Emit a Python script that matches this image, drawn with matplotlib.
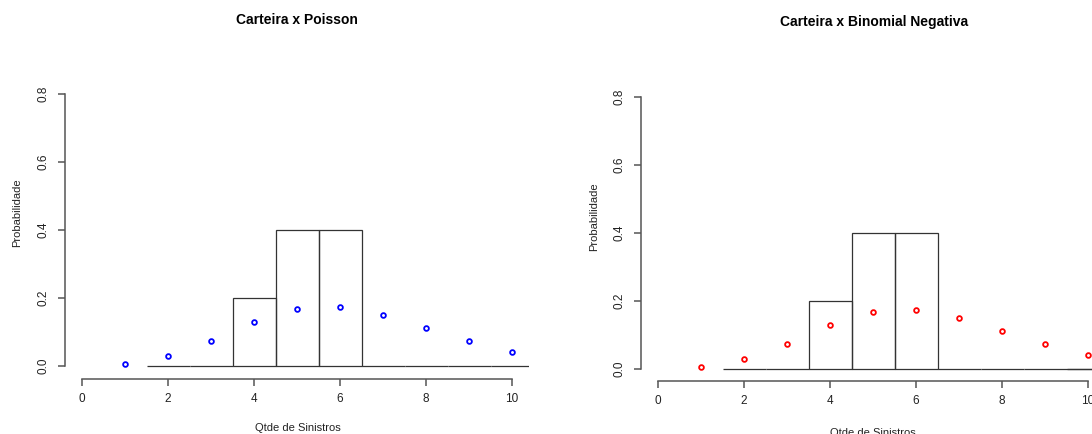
import numpy as np
import matplotlib.pyplot as plt

# Dados
qtde = [1, 2, 3, 4, 5, 6, 7, 8, 9, 10]
prob_poisson = [0.005, 0.029, 0.073, 0.129, 0.167, 0.174, 0.150, 0.112, 0.073, 0.041]
prob_binneg = [0.006, 0.029, 0.073, 0.129, 0.167, 0.174, 0.150, 0.112, 0.073, 0.041]
hist_centros = [2, 3, 4, 5, 6, 7, 8, 9, 10, 11]
hist_freq = [0.0, 0.0, 0.2, 0.4, 0.4, 0.0, 0.0, 0.0, 0.0, 0.0]
titulos = ['Carteira x Poisson', 'Carteira x Binomial Negativa']

W, H = 1092, 434
plt.rcParams['font.family'] = ['Liberation Sans', 'DejaVu Sans']
TXT = '#222222'
LIN = '#333333'


def eixo(fig, px_esq, px_dir, px_zero_x, px_dez, px_base, px_y0, px_y08):
    # posiciona o eixo a partir de medidas em pixels
    sx = (px_dez - px_zero_x) / 10
    sy = (px_y0 - px_y08) / 0.8
    x0 = -(px_zero_x - px_esq) / sx
    x1 = (px_dir - px_zero_x) / sx
    y0 = -(px_base - px_y0) / sy
    y1 = 0.832
    top = px_y0 - y1 * sy
    ax = fig.add_axes([px_esq / W, 1 - px_base / H,
                       (px_dir - px_esq) / W, (px_base - top) / H])
    ax.set_xlim(x0, x1)
    ax.set_ylim(y0, y1)
    return ax


def graficar(ax, prob, cor):
    ax.bar(hist_centros, hist_freq, width=1, fill=False, edgecolor=LIN,
           linewidth=0.9)
    ax.plot(qtde, prob, 'o', mfc='none', mec=cor, ms=3.4, mew=1.3)
    for s in ['top', 'right']:
        ax.spines[s].set_visible(False)
    ax.spines['left'].set_bounds(0, 0.8)
    ax.spines['bottom'].set_bounds(0, 10)
    for s in ['left', 'bottom']:
        ax.spines[s].set_color('#555555')
        ax.spines[s].set_linewidth(1.1)
    ax.set_xticks([0, 2, 4, 6, 8, 10])
    ax.set_yticks([0.0, 0.2, 0.4, 0.6, 0.8])
    ax.set_yticklabels(['0.0', '0.2', '0.4', '0.6', '0.8'], rotation=90,
                       va='center')
    ax.tick_params(length=5, width=1.1, color='#555555', labelsize=8.5,
                   labelcolor=TXT)
    ax.tick_params(axis='x', pad=5)
    ax.tick_params(axis='y', pad=6)


fig = plt.figure(figsize=(W / 100, H / 100), dpi=100)

ax1 = eixo(fig, 64.8, 529.2, 82, 512, 379, 366, 94)
graficar(ax1, prob_poisson, 'blue')
ax2 = eixo(fig, 640.8, 1105.2, 658, 1088, 381, 368.7, 97)
graficar(ax2, prob_binneg, 'red')

# Textos
fig.text(297 / W, 1 - 20 / H, titulos[0], ha='center', va='center',
         fontsize=10, fontweight='bold', color='black')
fig.text(874 / W, 1 - 22 / H, titulos[1], ha='center', va='center',
         fontsize=10, fontweight='bold', color='black')
fig.text(298 / W, 1 - 428 / H, 'Qtde de Sinistros', ha='center',
         va='center', fontsize=8, color=TXT)
fig.text(873 / W, 1 - 433 / H, 'Qtde de Sinistros', ha='center',
         va='center', fontsize=8, color=TXT)
fig.text(17 / W, 1 - 213 / H, 'Probabilidade', ha='center', va='center',
         rotation=90, fontsize=8, color=TXT)
fig.text(594 / W, 1 - 217 / H, 'Probabilidade', ha='center', va='center',
         rotation=90, fontsize=8, color=TXT)

fig.savefig('out.png', dpi=100)
